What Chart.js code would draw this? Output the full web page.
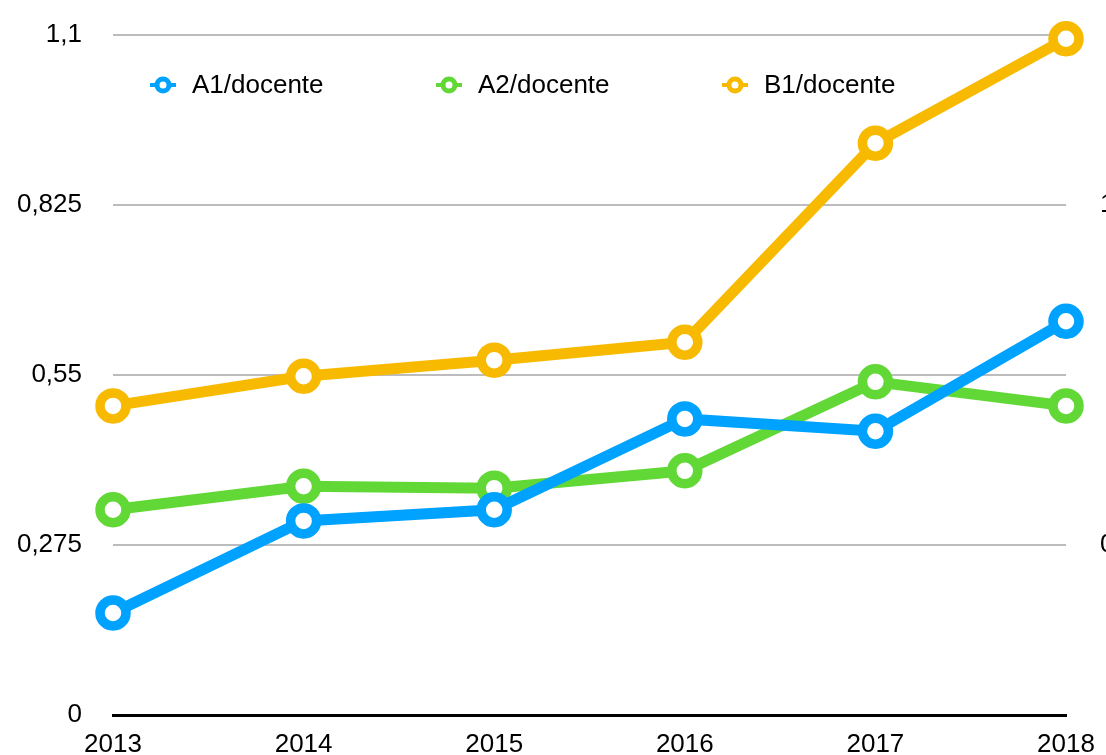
<!DOCTYPE html>
<html>
<head>
<meta charset="utf-8">
<script src="https://cdn.jsdelivr.net/npm/chart.js@4/dist/chart.umd.min.js"></script>
<style>
  html, body { margin: 0; padding: 0; background: #fff; overflow: hidden; }
  #wrap { width: 1106px; height: 755px; }
</style>
</head>
<body>
<div id="wrap"><canvas id="mycanvas" width="1106" height="755"></canvas></div>
<script>
var years = ['2013', '2014', '2015', '2016', '2017', '2018'];
var a1Values = [0.165, 0.314, 0.332, 0.479, 0.459, 0.637];
var a2Values = [0.332, 0.370, 0.367, 0.395, 0.539, 0.500];
var b1Values = [0.500, 0.548, 0.574, 0.603, 0.925, 1.094];
var yTicks = [0, 0.275, 0.55, 0.825, 1.1];
var yTickLabels = ['0', '0,275', '0,55', '0,825', '1,1'];
var y2Ticks = [0.5, 1.5];
var y2TickLabels = ['0,5', '1,5'];

var font = { family: "'Liberation Sans', Arial, Helvetica, sans-serif", size: 26 };

function makeSet(label, values, color) {
	return {
		label: label,
		data: values,
		borderColor: color,
		backgroundColor: color,
		borderWidth: 11,
		pointRadius: 13,
		pointHoverRadius: 13,
		pointBorderWidth: 9.5,
		pointBackgroundColor: '#ffffff',
		pointBorderColor: color,
		tension: 0,
		clip: false,
		yAxisID: 'y'
	};
}

// fixed axis sizes, no extra label padding pushing the plot around
function fixSize(w, h) {
	return function(scale) {
		if (w) scale.width = w;
		if (h) scale.height = h;
		scale.paddingTop = 0;
		scale.paddingBottom = 0;
		scale.paddingLeft = 0;
		scale.paddingRight = 0;
	};
}

// legend drawn inside the plot, like the original
var insideLegend = {
	id: 'insideLegend',
	afterDraw: function(chart) {
		var ctx = chart.ctx;
		var area = chart.chartArea;
		var y = area.top + 50;
		chart.data.datasets.forEach(function(ds, i) {
			var cx = area.left + 50 + i * 286;
			ctx.save();
			ctx.strokeStyle = ds.borderColor;
			ctx.lineWidth = 4;
			ctx.beginPath();
			ctx.moveTo(cx - 13, y);
			ctx.lineTo(cx + 13, y);
			ctx.stroke();
			ctx.beginPath();
			ctx.arc(cx, y, 6, 0, Math.PI * 2);
			ctx.fillStyle = '#ffffff';
			ctx.fill();
			ctx.lineWidth = 5;
			ctx.stroke();
			ctx.fillStyle = '#000';
			ctx.font = font.size + 'px ' + font.family;
			ctx.textBaseline = 'middle';
			ctx.textAlign = 'left';
			ctx.fillText(ds.label, cx + 29, y + 1);
			ctx.restore();
		});
	}
};

var ctx = document.getElementById('mycanvas');
var lineGraph = new Chart(ctx, {
	type: 'line',
	data: {
		labels: years,
		datasets: [
			makeSet('A1/docente', a1Values, '#00A2FF'),
			makeSet('A2/docente', a2Values, '#61D836'),
			makeSet('B1/docente', b1Values, '#F8BA00')
		]
	},
	options: {
		responsive: false,
		animation: false,
		layout: { padding: { top: 35, left: 0, right: 0, bottom: 0 } },
		plugins: {
			legend: { display: false },
			tooltip: { enabled: false },
			title: { display: false }
		},
		scales: {
			x: {
				offset: false,
				grid: { display: false, drawTicks: false },
				border: { display: true, color: '#000', width: 3 },
				ticks: { color: '#000', font: font, padding: 14, maxRotation: 0, autoSkip: false },
				afterFit: fixSize(0, 40)
			},
			y: {
				position: 'left',
				min: 0,
				max: 1.1,
				grid: { color: '#bcbcbc', lineWidth: 2, drawTicks: false },
				border: { display: false },
				ticks: {
					color: '#000',
					font: font,
					padding: 31,
					callback: function(v, i) { return yTickLabels[i]; }
				},
				afterBuildTicks: function(scale) {
					scale.ticks = yTicks.map(function(v) { return { value: v }; });
				},
				afterFit: fixSize(113, 0)
			},
			y2: {
				position: 'right',
				min: 0,
				max: 2,
				grid: { display: false, drawTicks: false },
				border: { display: false },
				ticks: {
					color: '#000',
					font: font,
					padding: 34,
					callback: function(v, i) { return y2TickLabels[i]; }
				},
				afterBuildTicks: function(scale) {
					scale.ticks = y2Ticks.map(function(v) { return { value: v }; });
				},
				afterFit: fixSize(40, 0)
			}
		}
	},
	plugins: [insideLegend]
});
</script>
</body>
</html>
